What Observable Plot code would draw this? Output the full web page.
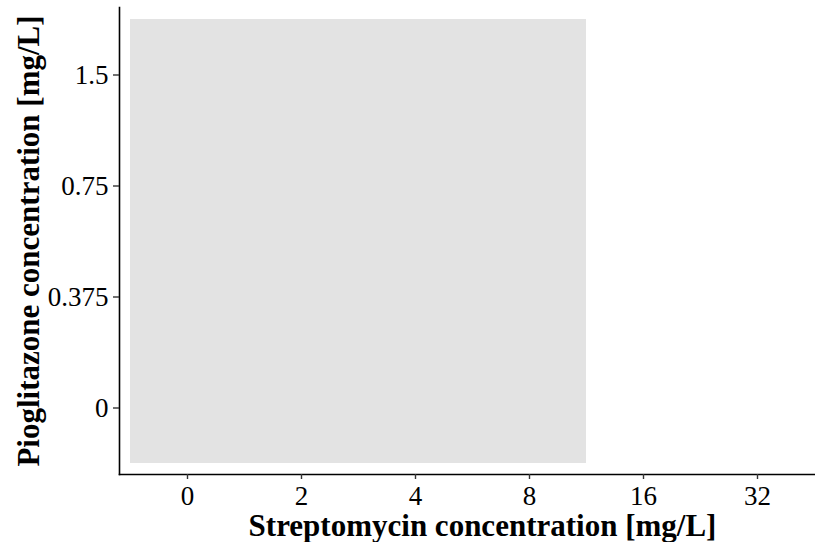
<!DOCTYPE html>
<html><head><meta charset="utf-8">
<script src="https://cdn.jsdelivr.net/npm/d3@7"></script>
<script src="https://cdn.jsdelivr.net/npm/@observablehq/plot@0.6"></script>
<style>html,body{margin:0;padding:0;background:#fff}</style>
</head><body><div id="chart"></div><script>
// Categories (ordinal axes)
const streptomycin = ["0", "2", "4", "8", "16", "32"];
const pioglitazone = ["0", "0.375", "0.75", "1.5"];
// Tested combinations (all shown as grey tiles, no measured value)
const testedStreptomycin = ["0", "2", "4", "8"];
const testedPioglitazone = ["0", "0.375", "0.75", "1.5"];
const xTitle = "Streptomycin concentration [mg/L]";
const yTitle = "Pioglitazone concentration [mg/L]";

const cells = testedStreptomycin.flatMap(s => testedPioglitazone.map(p => ({s, p})));

const font = "'Liberation Serif', 'Times New Roman', serif";
const plot = Plot.plot({
  width: 815, height: 542,
  marginLeft: 119, marginRight: 0, marginTop: 7, marginBottom: 68,
  style: {fontFamily: font, background: "#fff", color: "#000"},
  x: {type: "band", domain: streptomycin, range: [130, 814], padding: 0, label: null},
  y: {type: "band", domain: pioglitazone.slice().reverse(), range: [18.5, 462.5], padding: 0, label: null},
  marks: [
    Plot.cell(cells, {x: "s", y: "p", fill: "#e3e3e3"}),
    Plot.frame({anchor: "left", stroke: "#000", strokeWidth: 1.6}),
    Plot.frame({anchor: "bottom", stroke: "#000", strokeWidth: 1.6}),
    Plot.axisX({tickSize: 5, tickPadding: 6, fontSize: 27, stroke: "#333", strokeWidth: 1.4, fill: "#000", label: null}),
    Plot.axisY({tickSize: 6, tickPadding: 5, fontSize: 27, stroke: "#333", strokeWidth: 1.4, fill: "#000", label: null}),
    Plot.text([xTitle], {frameAnchor: "bottom", lineAnchor: "bottom", textAnchor: "middle", dy: 61, dx: 15, fontSize: 31, fontWeight: "bold", fill: "#000"}),
    Plot.text([yTitle], {frameAnchor: "left", lineAnchor: "bottom", textAnchor: "middle", rotate: -90, dx: -80.5, fontSize: 31, fontWeight: "bold", fill: "#000"})
  ]
});
document.getElementById("chart").append(plot);
</script></body></html>
